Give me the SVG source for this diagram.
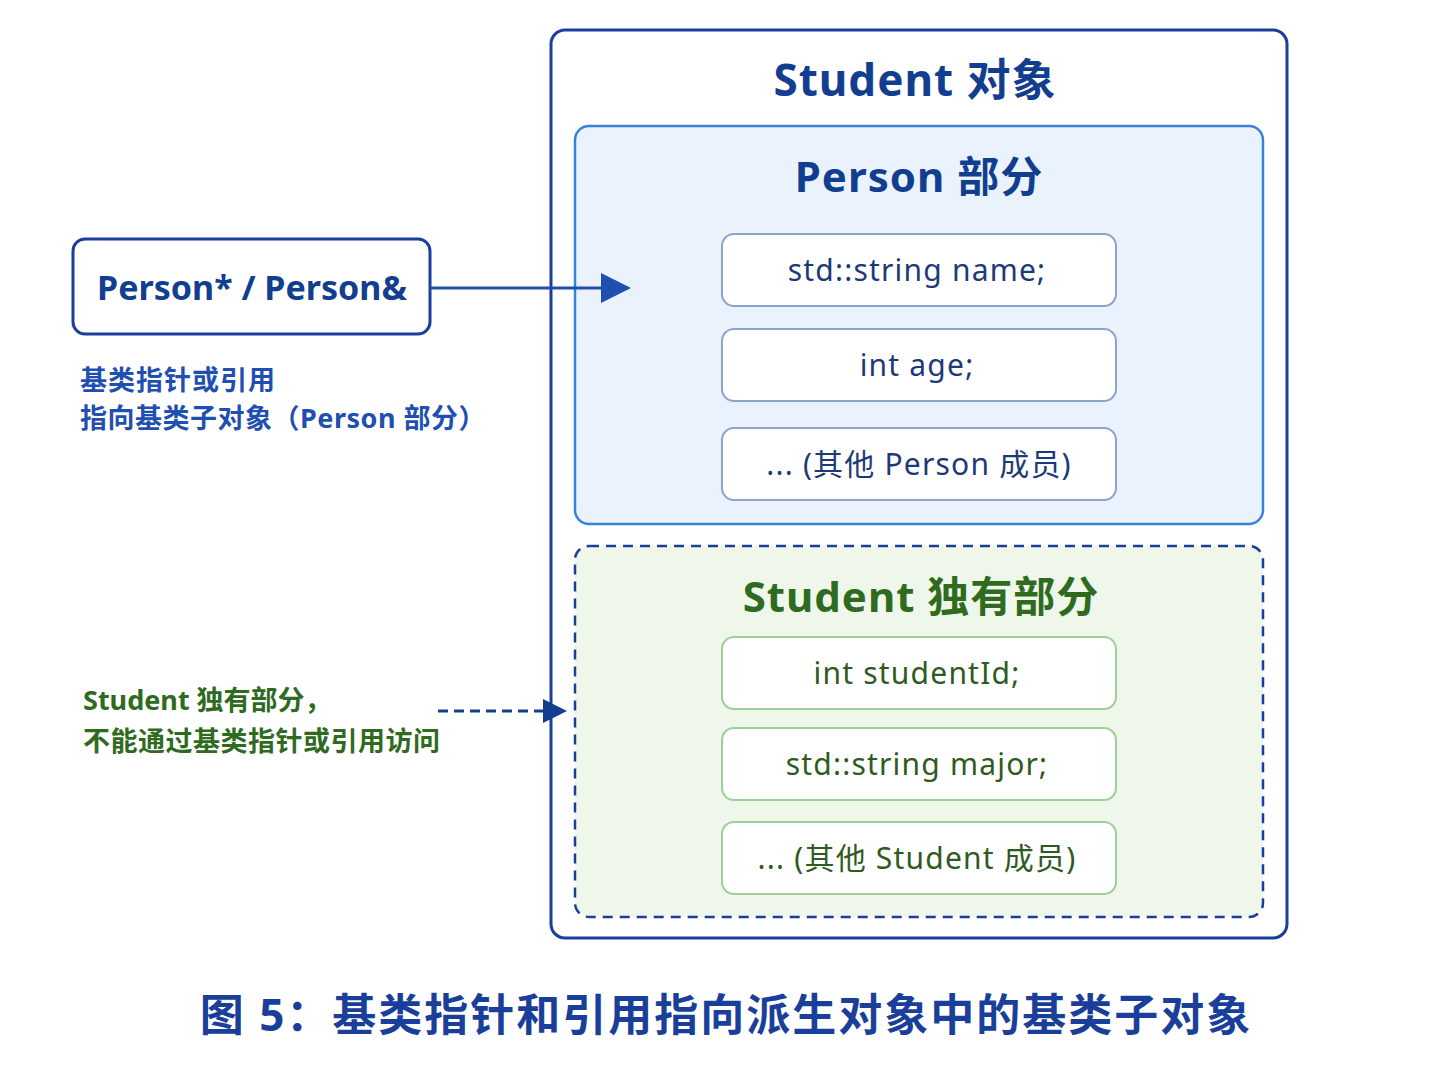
<svg xmlns="http://www.w3.org/2000/svg" width="1448" height="1086" viewBox="0 0 1448 1086">
<style>
text{font-family:"Noto Sans","Noto Sans CJK SC",sans-serif}
.b{font-weight:bold}
.blue{fill:#123e8f}
.green{fill:#2f6b1f}
.item{fill:#fff;stroke:#8ea3cc;stroke-width:2}
.gitem{fill:#fff;stroke:#9fcf98;stroke-width:2}
.it{font-size:30px;text-anchor:middle;fill:#1d3a78;letter-spacing:1.2px}
.git{font-size:30px;text-anchor:middle;fill:#2f5a22;letter-spacing:1.2px}
</style>
<defs>
<marker id="ah" markerWidth="10" markerHeight="10" refX="9" refY="5" orient="auto" markerUnits="strokeWidth"><path d="M0,0 L10,5 L0,10 z" fill="#1f4fb0"/></marker>
<marker id="ah2" markerWidth="8" markerHeight="8" refX="7" refY="4" orient="auto" markerUnits="strokeWidth"><path d="M0,0 L8,4 L0,8 z" fill="#123e8f"/></marker>
</defs>
<rect width="1448" height="1086" fill="#fff"/>
<g id="student">
<rect x="551" y="30" width="736" height="908" rx="14" fill="#fff" stroke="#1a3f9a" stroke-width="3"/>
<text x="915" y="96" font-size="44" class="b blue" text-anchor="middle" letter-spacing="1">Student 对象</text>
</g>
<g id="person">
<rect x="575" y="126" width="688" height="398" rx="14" fill="#eaf3fd" stroke="#3b82d6" stroke-width="2.5"/>
<text x="919" y="192" font-size="42" class="b blue" text-anchor="middle" letter-spacing="1">Person 部分</text>
<rect class="item" x="722" y="234" width="394" height="72" rx="12"/>
<text class="it" x="917" y="281">std::string name;</text>
<rect class="item" x="722" y="329" width="394" height="72" rx="12"/>
<text class="it" x="917" y="376">int age;</text>
<rect class="item" x="722" y="428" width="394" height="72" rx="12"/>
<text class="it" x="919" y="475">... (其他 Person 成员)</text>
</g>
<g id="studentOnly">
<rect x="575" y="546" width="688" height="371" rx="14" fill="#eef7ea" stroke="#1a3f9a" stroke-width="2.5" stroke-dasharray="10 7"/>
<text x="921" y="612" font-size="42" class="b green" text-anchor="middle" letter-spacing="1">Student 独有部分</text>
<rect class="gitem" x="722" y="637" width="394" height="72" rx="12"/>
<text class="git" x="917" y="684">int studentId;</text>
<rect class="gitem" x="722" y="728" width="394" height="72" rx="12"/>
<text class="git" x="917" y="775">std::string major;</text>
<rect class="gitem" x="722" y="822" width="394" height="72" rx="12"/>
<text class="git" x="917" y="869">... (其他 Student 成员)</text>
</g>
<g id="ptr">
<rect x="73" y="239" width="357" height="95" rx="12" fill="#fff" stroke="#1a3f9a" stroke-width="3"/>
<text x="252" y="300" font-size="34" class="b blue" text-anchor="middle">Person* / Person&amp;</text>
</g>
<g id="notes">
<text x="80" y="390" font-size="27" class="b" fill="#1f4fb0" letter-spacing="1">基类指针或引用</text>
<text x="80" y="428" font-size="27" class="b" fill="#1f4fb0" letter-spacing="0.5">指向基类子对象（Person 部分）</text>
<text x="83" y="710" font-size="27" class="b green">Student 独有部分，</text>
<text x="83" y="751" font-size="27" class="b green" letter-spacing="0.5">不能通过基类指针或引用访问</text>
</g>
<g id="connectors">
<line x1="430" y1="288" x2="628" y2="288" stroke="#1f4fb0" stroke-width="3" marker-end="url(#ah)"/>
<line x1="438" y1="711" x2="564" y2="711" stroke="#123e8f" stroke-width="3" stroke-dasharray="10 6" marker-end="url(#ah2)"/>
</g>
<text x="726" y="1031" font-size="44" class="b" fill="#1a3f9a" text-anchor="middle" letter-spacing="2">图 5：基类指针和引用指向派生对象中的基类子对象</text>
</svg>
